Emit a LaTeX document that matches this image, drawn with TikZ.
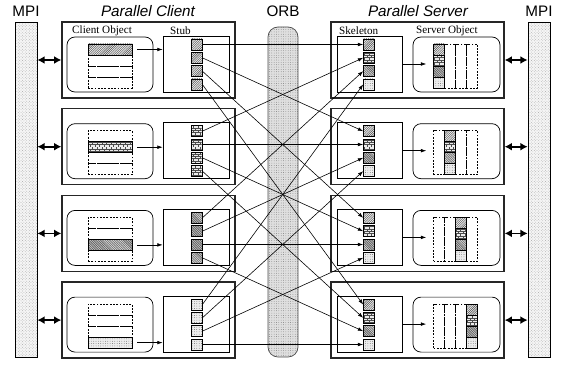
\documentclass[tikz,border=0pt]{standalone}
\usepackage{fontspec}
\setmainfont{Liberation Serif}
\setsansfont{Liberation Sans}
\usetikzlibrary{arrows.meta,patterns}

% finer versions of the standard patterns
\pgfdeclarepatternformonly{fine ne lines}{\pgfqpoint{-1pt}{-1pt}}{\pgfqpoint{3pt}{3pt}}{\pgfqpoint{1.9pt}{1.9pt}}{%
  \pgfsetlinewidth{0.35pt}
  \pgfpathmoveto{\pgfqpoint{0pt}{0pt}}\pgfpathlineto{\pgfqpoint{2pt}{2pt}}
  \pgfusepath{stroke}}
\pgfdeclarepatternformonly{fine nw lines}{\pgfqpoint{-1pt}{-1pt}}{\pgfqpoint{3pt}{3pt}}{\pgfqpoint{1.5pt}{1.5pt}}{%
  \pgfsetlinewidth{0.4pt}
  \pgfpathmoveto{\pgfqpoint{0pt}{1.6pt}}\pgfpathlineto{\pgfqpoint{1.6pt}{0pt}}
  \pgfusepath{stroke}}
\pgfdeclarepatternformonly{fine bricks}{\pgfqpoint{-0.2pt}{-0.2pt}}{\pgfqpoint{4.2pt}{4.2pt}}{\pgfqpoint{4pt}{4pt}}{%
  \pgfsetlinewidth{0.35pt}
  \pgfpathmoveto{\pgfqpoint{0pt}{0pt}}\pgfpathlineto{\pgfqpoint{4pt}{0pt}}
  \pgfpathmoveto{\pgfqpoint{0pt}{2pt}}\pgfpathlineto{\pgfqpoint{4pt}{2pt}}
  \pgfpathmoveto{\pgfqpoint{1pt}{0pt}}\pgfpathlineto{\pgfqpoint{1pt}{2pt}}
  \pgfpathmoveto{\pgfqpoint{3pt}{2pt}}\pgfpathlineto{\pgfqpoint{3pt}{4pt}}
  \pgfusepath{stroke}}
\pgfdeclarepatternformonly{fine dots}{\pgfqpoint{-0.5pt}{-0.5pt}}{\pgfqpoint{2.5pt}{2.5pt}}{\pgfqpoint{2pt}{2pt}}{%
  \pgfpathcircle{\pgfqpoint{0pt}{0pt}}{0.3pt}
  \pgfusepath{fill}}
\pgfdeclarepatternformonly{fine cross dots}{\pgfqpoint{-0.5pt}{-0.5pt}}{\pgfqpoint{3pt}{3pt}}{\pgfqpoint{2.4pt}{2.4pt}}{%
  \pgfpathcircle{\pgfqpoint{0pt}{0pt}}{0.3pt}
  \pgfpathcircle{\pgfqpoint{1.2pt}{1.2pt}}{0.3pt}
  \pgfusepath{fill}}

\def\patlist{1/fine ne lines,2/fine bricks,3/fine nw lines,4/fine dots}

\begin{document}
\begin{tikzpicture}[
x=0.03cm, y=-0.03cm,
outerbox/.style={draw=black!85, line width=1.1pt, inner sep=0, minimum width=51.9mm, minimum height=22.8mm},
innerbox/.style={draw, line width=0.6pt, inner sep=0, minimum width=19.8mm, minimum height=16.8mm},
objbox/.style={draw, rounded corners=2.4mm, line width=0.6pt, inner sep=0, minimum width=25.8mm, minimum height=16.5mm},
sq/.style={draw, line width=0.5pt, inner sep=0, minimum size=3.3mm, preaction={fill=gray!15}, pattern color=black!70},
ccell/.style={draw, line width=0.5pt, inner sep=0, minimum width=13.2mm, minimum height=3.3mm},
dashcell/.style={ccell, dash pattern=on 1.6pt off 1.2pt},
dashcol/.style={draw, line width=0.5pt, dash pattern=on 1.6pt off 1.2pt, inner sep=0, minimum width=3.3mm, minimum height=13.2mm},
mpibar/.style={draw, line width=0.6pt, inner sep=0, minimum width=6.6mm, minimum height=100.5mm, preaction={fill=gray!8}, pattern=fine cross dots, pattern color=gray!85},
orb/.style={draw=black!70, line width=0.6pt, rounded corners=3mm, inner sep=0, minimum width=9mm, minimum height=99mm, preaction={fill=gray!25}, pattern=fine dots, pattern color=gray!80!black},
link/.style={-{Latex[length=1.6mm,width=1.1mm]}, line width=0.5pt},
mpiarrow/.style={{Latex[length=2.2mm,width=2.4mm]}-{Latex[length=2.2mm,width=2.4mm]}, line width=1.4pt},
titletext/.style={font=\sffamily\fontsize{13}{15}\selectfont, inner sep=0},
boxlabel/.style={font=\fontsize{9.5}{11}\selectfont, anchor=west, inner sep=0}
]
\useasboundingbox (0,0) rectangle (561,367);

% titles
\node[titletext] (mpi-l-title) at (26,11) {MPI};
\node[titletext] (client-title) at (148,11) {\itshape Parallel Client};
\node[titletext] (orb-title) at (283,11) {ORB};
\node[titletext] (server-title) at (418,11) {\itshape Parallel Server};
\node[titletext] (mpi-r-title) at (539,11) {MPI};

% MPI bars and ORB
\node[mpibar] (mpi-l) at (26,189.5) {};
\node[mpibar] (mpi-r) at (539,189.5) {};
\node[orb] (orb) at (283,192) {};

% one row per client / server pair
\foreach \k/\pk in \patlist {
  \pgfmathsetmacro\rowtop{22+86.7*(\k-1)}
  % client side
  \node[outerbox] (cout-\k) at (148.5,\rowtop+38) {};
  \node[objbox] (cobj-\k) at (110,\rowtop+42.5) {};
  \node[innerbox] (stubbox-\k) at (196,\rowtop+42) {};
  \foreach \j in {1,...,4}
    \node[dashcell] (cell-\k-\j) at (110,\rowtop+16.5+11*\j) {};
  \node[ccell, preaction={fill=gray!15}, pattern=\pk, pattern color=black!70] (cellfill-\k) at (110,\rowtop+16.5+11*\k) {};
  \foreach \j in {1,...,4}
    \node[sq, pattern=\pk] (stub-\k-\j) at (196.5,\rowtop+9.2+13.3*\j) {};
  \draw[link] ([xshift=1.5mm]cellfill-\k.east) -- (cellfill-\k.east -| stubbox-\k.west);
  % server side
  \node[outerbox] (sout-\k) at (417.5,\rowtop+38) {};
  \node[innerbox, minimum width=19.5mm] (skelbox-\k) at (369.5,\rowtop+42) {};
  \node[objbox, minimum width=26.1mm] (sobj-\k) at (456.5,\rowtop+42.5) {};
  \foreach \c in {1,...,4}
    \node[dashcol] (col-\k-\c) at (428+11*\c,\rowtop+44) {};
  \foreach \j/\pj in \patlist {
    \node[sq, pattern=\pj] (skel-\k-\j) at (369,\rowtop+9.2+13.3*\j) {};
    \node[sq, pattern=\pj] (scell-\k-\j) at (428+11*\k,\rowtop+16.5+11*\j) {};
  }
  \draw[link, shorten >=2.1mm] (skelbox-\k.east) -- (skelbox-\k.east -| col-\k-1.west);
  % MPI links
  \draw[mpiarrow] (mpi-l.east |- cout-\k.west) -- (cout-\k.west);
  \draw[mpiarrow] (sout-\k.east) -- (sout-\k.east -| mpi-r.west);
}

% labels of the first row
\node[boxlabel] (lbl-cobj) at (72,31) {Client Object};
\node[boxlabel] (lbl-stub) at (170,31) {Stub};
\node[boxlabel] (lbl-skel) at (339,31) {Skeleton};
\node[boxlabel] (lbl-sobj) at (416,31) {Server Object};

% stub to skeleton through the ORB
\foreach \k in {1,...,4}
  \foreach \j in {1,...,4}
    \draw[link] (stub-\k-\j.east) -- (skel-\j-\k.west);
\end{tikzpicture}
\end{document}
